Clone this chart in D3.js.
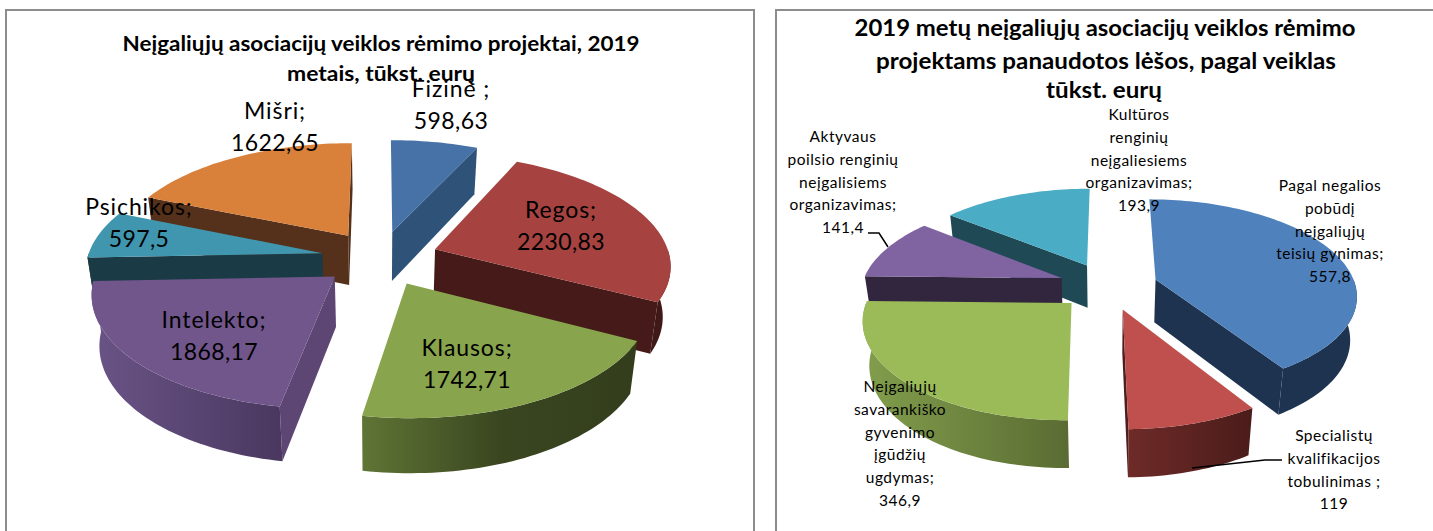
<!DOCTYPE html>
<html><head><meta charset="utf-8">
<script src="https://cdnjs.cloudflare.com/ajax/libs/d3/7.8.5/d3.min.js"></script>
<style>html,body{margin:0;padding:0;background:#fff;overflow:hidden}svg{display:block}text{font-family:Lato,"Noto Sans",sans-serif;fill:#000;text-anchor:middle}</style>
</head><body><svg id="c" width="1433" height="531"></svg>
<script>
// ---- data: left chart
const leftCategories = ["Fizinė ;","Regos;","Klausos;","Intelekto;","Psichikos;","Mišri;"];
const leftValues = [598.63,2230.83,1742.71,1868.17,597.5,1622.65];
const leftTitle = ["Neįgaliųjų asociacijų veiklos rėmimo projektai, 2019","metais, tūkst. eurų"];
// ---- data: right chart
const rightCategories = [
  ["Pagal negalios","pobūdį","neįgaliųjų","teisių gynimas;"],
  ["Specialistų","kvalifikacijos","tobulinimas ;"],
  ["Neįgaliųjų","savarankiško","gyvenimo","įgūdžių","ugdymas;"],
  ["Aktyvaus","poilsio renginių","neįgalisiems","organizavimas;"],
  ["Kultūros","renginių","neįgaliesiems","organizavimas;"]];
const rightValues = [557.8,119,346.9,141.4,193.9];
const rightTitle = ["2019 metų neįgaliųjų asociacijų veiklos rėmimo","projektams panaudotos lėšos, pagal veiklas","tūkst. eurų"];
// ---- colours
const leftTop  = ["#4672a8","#a64340","#88a44c","#71568c","#4096ae","#d9803b"];
const leftSide = ["#2f5278","#451a18","#3f4d22","#5d4673","#1a3a45","#55301a"];
const leftArc  = [["#2f5278","#2f5278"],["#3f1917","#451a18"],["#5f7535","#3a4620","#333d1c"],["#6a5487","#4a3860"],["#1a3a45","#1a3a45"],["#55301a","#55301a"]];
const rightTop  = ["#4f81bd","#c0504d","#9bbb59","#8064a2","#4bacc6"];
const rightSide = ["#1e3350","#4d1e1c","#5c6e33","#32263f","#1f4a55"];
const rightArc  = [["#1e3350","#1e3350"],["#6e2b28","#4a1c1a"],["#829e4c","#5a6c33"],["#32263f","#32263f"],["#1f4a55","#1f4a55"]];

const svg = d3.select("#c");
const defs = svg.append("defs");
const fmt = v => String(v).replace(".",",");
const rad = d => d*Math.PI/180;
let gid = 0;

function drawPie(o){
  const pie = d3.pie().sort(null).value(d=>d);
  const arcs = pie(o.values).map((d,i)=>({...d,i}));
  const sx = d3.scaleLinear().domain([0,1]).range([o.cx,o.cx+o.A]);
  const sy = d3.scaleLinear().domain([0,1]).range([o.cy,o.cy-o.B]);
  // perspective projection of a point of the pie plane (u right, v away), h=0 top, 1 bottom
  const proj = (u,v,h)=>{ const w=1+o.p*v; return [sx((u/w)*(1-0.027*h)), sy(v/w)+h*o.D/Math.pow(w,0.55)]; };
  const line = d3.line();
  arcs.forEach(d=>{
    const mid=(d.startAngle+d.endAngle)/2;
    d.ou=o.explode*Math.sin(mid); d.ov=o.explode*Math.cos(mid);
    d.pt=(a,r,h)=>proj(d.ou+r*Math.sin(a),d.ov+r*Math.cos(a),h);
  });
  const g = svg.append("g");
  arcs.slice().sort((a,b)=>b.ov-a.ov).forEach(d=>{
    const n=Math.max(8,Math.ceil((d.endAngle-d.startAngle)/rad(1.5)));
    const rim=d3.range(n+1).map(k=>d.startAngle+(d.endAngle-d.startAngle)*k/n);
    const radial=a=>line([d.pt(a,0,0),d.pt(a,1,0),d.pt(a,1,1),d.pt(a,0,1)])+"Z";
    if(Math.sin(d.startAngle)<0) g.append("path").attr("d",radial(d.startAngle)).attr("fill",o.side[d.i]);
    if(Math.sin(d.endAngle)>0)   g.append("path").attr("d",radial(d.endAngle)).attr("fill",o.side[d.i]);
    // visible outer wall: the part of the rim that faces the viewer
    const a0=Math.max(d.startAngle,Math.PI/2), a1=Math.min(d.endAngle,Math.PI*1.5);
    if(a1>a0){
      const m=Math.ceil((a1-a0)/rad(1.5));
      const vis=d3.range(m+1).map(k=>a0+(a1-a0)*k/m);
      const up=vis.map(a=>d.pt(a,1,0)), dn=vis.map(a=>d.pt(a,1,1)).reverse();
      const xs=up.map(p=>p[0]), id="g"+(gid++);
      const lg=defs.append("linearGradient").attr("id",id).attr("gradientUnits","userSpaceOnUse")
        .attr("x1",d3.min(xs)).attr("x2",d3.max(xs)).attr("y1",0).attr("y2",0);
      const st=o.arc[d.i];
      st.forEach((c,k)=>lg.append("stop").attr("offset",k/(st.length-1)).attr("stop-color",c));
      g.append("path").attr("d",line(up.concat(dn))+"Z").attr("fill",`url(#${id})`);
    }
    g.append("path").attr("d",line([d.pt(0,0,0)].concat(rim.map(a=>d.pt(a,1,0))))+"Z").attr("fill",o.top[d.i]);
  });
}

function textLine(s,x,y,size,weight,len,spacing){
  const t=svg.append("text").attr("x",x).attr("y",y).attr("font-size",size).attr("font-weight",weight).text(s);
  if(len) t.attr("textLength",len).attr("lengthAdjust","spacingAndGlyphs");
  if(spacing) t.attr("letter-spacing",spacing);
  return t;
}

// frames
svg.append("path").attr("d","M6,531V10H754V531").attr("fill","none").attr("stroke","#8c8c8c").attr("stroke-width",2);
svg.append("path").attr("d","M776,531V10H1433").attr("fill","none").attr("stroke","#8c8c8c").attr("stroke-width",2);

drawPie({values:leftValues,top:leftTop,side:leftSide,arc:leftArc,cx:380,cy:258,A:235,B:110,p:0.13,D:50,explode:0.25});
drawPie({values:rightValues,top:rightTop,side:rightSide,arc:rightArc,cx:1108,cy:286,A:200,B:94,p:0.15,D:43,explode:0.25});

// leader lines
const leaders=[[[868,233],[879,233],[888,247]],[[1282,460],[1265,460],[1192,468]]];
leaders.forEach(l=>svg.append("path").attr("d",d3.line()(l)).attr("fill","none").attr("stroke","#000").attr("stroke-width",1.5));

// titles
const leftTitleLayout=[[381,51,517],[381,81,188]];
leftTitle.forEach((s,i)=>textLine(s,leftTitleLayout[i][0],leftTitleLayout[i][1],21,700,leftTitleLayout[i][2]));
const rightTitleLayout=[[1105,36,501],[1106,69,460],[1104,98,116]];
rightTitle.forEach((s,i)=>textLine(s,rightTitleLayout[i][0],rightTitleLayout[i][1],23,700,rightTitleLayout[i][2]));

// left labels [x, first baseline]
const leftLabelLayout=[[451,97],[561,218],[467,356],[214,328],[139,215],[275,119]];
leftCategories.forEach((c,i)=>{
  const [x,y]=leftLabelLayout[i];
  textLine(c,x,y,23,400,null,0.9); textLine(fmt(leftValues[i]),x,y+32,23,400,null,0.4);
});
// right labels
const rightLabelLayout=[[1330,191],[1334,441],[900,392],[843,142],[1139,120]];
rightCategories.forEach((ls,i)=>{
  const [x,y]=rightLabelLayout[i];
  ls.concat(fmt(rightValues[i])).forEach((s,k)=>textLine(s,x,y+k*22.8,15.5,400,null,0.5));
});
</script></body></html>
